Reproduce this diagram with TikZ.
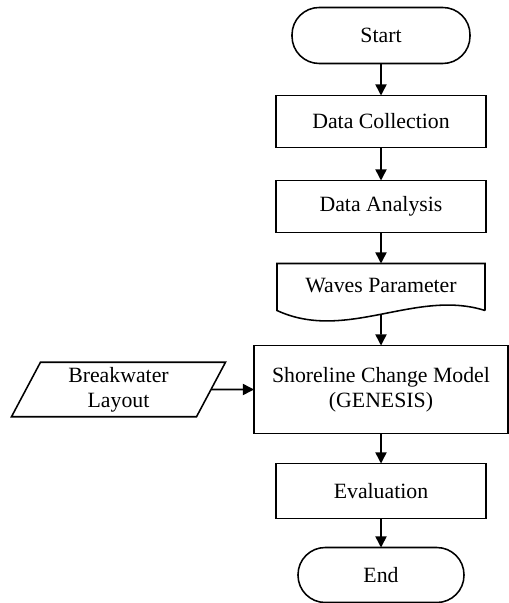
\documentclass[tikz,border=0pt]{standalone}
\usepackage{fontspec}
\setmainfont{Liberation Serif}
\usetikzlibrary{arrows.meta,shapes.geometric,positioning}

\begin{document}
\begin{tikzpicture}[
    node distance=0.8cm,
    line width=1.1pt,
    every node/.style={outer sep=0pt},
    font=\fontsize{15.5}{18}\selectfont,
    terminal/.style={rectangle,draw,rounded corners=0.68cm,minimum height=1.4cm},
    process/.style={rectangle,draw,minimum width=5.25cm,minimum height=1.3cm},
    docshape/.style={rectangle,minimum width=5.2cm,minimum height=1.175cm},
    inputbox/.style={trapezium,draw,trapezium left angle=62,trapezium right angle=118,
        trapezium stretches body,minimum width=5.35cm,minimum height=1.35cm,align=center},
    flow/.style={-{Triangle[length=8pt,width=8pt]}}
]
    \useasboundingbox (0,0) rectangle (12.7,-15.075);

    % Nodes
    \node[terminal,minimum width=4.45cm] (start) at (9.525,-0.8875) {Start};
    \node[process] (collect) [below=of start] {Data Collection};
    \node[process] (analysis) [below=0.825cm of collect] {Data Analysis};
    \node[docshape] (waves) [below=0.775cm of analysis] {\raisebox{0.08cm}{Waves Parameter}};
    \node[process,minimum width=6.35cm,minimum height=2.2cm,align=center] (model)
        [below=0.875cm of waves] {Shoreline Change Model\\(GENESIS)};
    \node[inputbox] (layout) [left=1.075cm of model] {Breakwater\\Layout};
    \node[process,minimum height=1.375cm] (eval) [below=0.75cm of model] {Evaluation};
    \node[terminal,minimum width=4.15cm,minimum height=1.375cm] (end) [below=0.725cm of eval] {End};

    % Document outline
    \draw (waves.south east) -- (waves.north east) -- (waves.north west) -- (waves.south west)
        .. controls +(1.73,-0.8) and +(-1.73,0.55) .. (waves.south east) coordinate[pos=0.5] (wavesb);

    % Edges
    \draw[flow] (start) -- (collect);
    \draw[flow] (collect) -- (analysis);
    \draw[flow] (analysis) -- (waves);
    \draw[flow] (wavesb) -- (model);
    \draw[flow] (layout) -- (model);
    \draw[flow] (model) -- (eval);
    \draw[flow] (eval) -- (end);
\end{tikzpicture}
\end{document}
